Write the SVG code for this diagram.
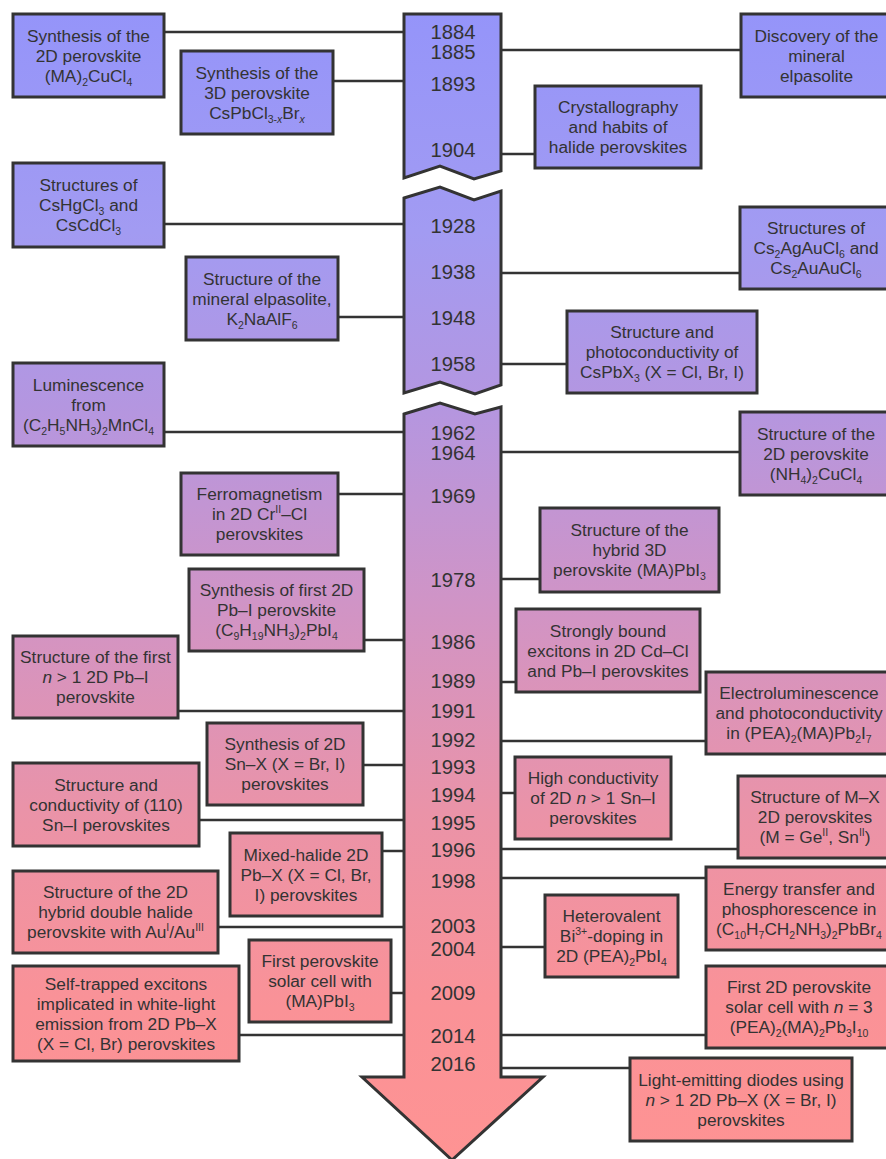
<svg xmlns="http://www.w3.org/2000/svg" width="886" height="1159" viewBox="0 0 886 1159">
<defs>
<linearGradient id="g" gradientUnits="userSpaceOnUse" x1="0" y1="0" x2="0" y2="1159">
<stop offset="0" stop-color="#9494fa"/>
<stop offset="0.2" stop-color="#a29bf2"/>
<stop offset="0.35" stop-color="#b496e0"/>
<stop offset="0.52" stop-color="#d094c6"/>
<stop offset="0.7" stop-color="#ea93a8"/>
<stop offset="0.87" stop-color="#fa9297"/>
<stop offset="1" stop-color="#fe9393"/>
</linearGradient>
<style>
.box{fill:url(#g);stroke:#333;stroke-width:3}
.arr{fill:url(#g);stroke:#333;stroke-width:3;stroke-linejoin:miter}
.conn line{stroke:#333;stroke-width:2.5}
text{font-family:"Liberation Sans",Arial,sans-serif;fill:#333;text-anchor:middle}
.t{font-size:17.3px}
.yr{font-size:20.3px}
.s{font-size:10.5px}
.i{font-style:italic}
</style>
</defs>
<g id="timeline">
<path class="arr" d="M404,14 H501 V171 L474,179 L440,166 L404,178 Z"/>
<path class="arr" d="M404,198 L440,187 L474,200 L501,191 V385 L475,394 L440,382 L404,393 Z"/>
<path class="arr" d="M404,414 L440,403 L475,414 L501,407 V1077 H543 L452,1160 L362,1077 H404 Z"/>
<g class="yr">
<text x="453" y="39">1884</text>
<text x="453" y="59">1885</text>
<text x="453" y="91">1893</text>
<text x="453" y="157">1904</text>
<text x="453" y="233">1928</text>
<text x="453" y="279">1938</text>
<text x="453" y="325">1948</text>
<text x="453" y="371">1958</text>
<text x="453" y="440">1962</text>
<text x="453" y="460">1964</text>
<text x="453" y="503">1969</text>
<text x="453" y="587">1978</text>
<text x="453" y="649">1986</text>
<text x="453" y="688">1989</text>
<text x="453" y="718">1991</text>
<text x="453" y="747">1992</text>
<text x="453" y="774">1993</text>
<text x="453" y="802">1994</text>
<text x="453" y="830">1995</text>
<text x="453" y="857">1996</text>
<text x="453" y="888">1998</text>
<text x="453" y="933">2003</text>
<text x="453" y="956">2004</text>
<text x="453" y="1000">2009</text>
<text x="453" y="1043">2014</text>
<text x="453" y="1071">2016</text>
</g>
</g>
<g id="connectors" class="conn">
<line x1="164" y1="32" x2="404" y2="32"/>
<line x1="333" y1="81" x2="404" y2="81"/>
<line x1="501" y1="50" x2="741" y2="50"/>
<line x1="501" y1="154" x2="535" y2="154"/>
<line x1="164" y1="224" x2="404" y2="224"/>
<line x1="338" y1="317" x2="404" y2="317"/>
<line x1="501" y1="273" x2="740" y2="273"/>
<line x1="501" y1="364" x2="567" y2="364"/>
<line x1="164" y1="432" x2="404" y2="432"/>
<line x1="338" y1="494" x2="404" y2="494"/>
<line x1="501" y1="452" x2="740" y2="452"/>
<line x1="501" y1="579" x2="540" y2="579"/>
<line x1="364" y1="640" x2="404" y2="640"/>
<line x1="178" y1="711" x2="404" y2="711"/>
<line x1="363" y1="765" x2="404" y2="765"/>
<line x1="501" y1="682" x2="516" y2="682"/>
<line x1="501" y1="741" x2="706" y2="741"/>
<line x1="199" y1="820" x2="404" y2="820"/>
<line x1="382" y1="851" x2="404" y2="851"/>
<line x1="218" y1="927" x2="404" y2="927"/>
<line x1="391" y1="993" x2="404" y2="993"/>
<line x1="501" y1="793" x2="515" y2="793"/>
<line x1="501" y1="849" x2="738" y2="849"/>
<line x1="501" y1="878" x2="706" y2="878"/>
<line x1="501" y1="947" x2="545" y2="947"/>
<line x1="239" y1="1035" x2="404" y2="1035"/>
<line x1="501" y1="1035" x2="706" y2="1035"/>
<line x1="501" y1="1068" x2="630" y2="1068"/>
</g>
<g id="n1884" class="t"><rect class="box" x="13" y="14" width="151" height="83"/>
<text x="88.5" y="41.5">Synthesis of the</text><text x="88.5" y="61.5">2D perovskite</text>
<text x="88.5" y="81.5">(MA)<tspan class="s" dy="4">2</tspan><tspan dy="-4">CuCl</tspan><tspan class="s" dy="4">4</tspan></text></g>
<g id="n1893" class="t"><rect class="box" x="181" y="51" width="152" height="83"/>
<text x="257" y="78.5">Synthesis of the</text><text x="257" y="98.5">3D perovskite</text>
<text x="257" y="118.5">CsPbCl<tspan class="s" dy="4">3-</tspan><tspan class="s i">x</tspan><tspan dy="-4">Br</tspan><tspan class="s i" dy="4">x</tspan></text></g>
<g id="n1885" class="t"><rect class="box" x="741" y="14" width="151" height="83"/>
<text x="816.5" y="41.5">Discovery of the</text><text x="816.5" y="61.5">mineral</text><text x="816.5" y="81.5">elpasolite</text></g>
<g id="n1904" class="t"><rect class="box" x="535" y="86" width="166" height="82"/>
<text x="618" y="113">Crystallography</text><text x="618" y="133">and habits of</text><text x="618" y="153">halide perovskites</text></g>
<g id="n1928" class="t"><rect class="box" x="13" y="163" width="151" height="84"/>
<text x="88.5" y="191">Structures of</text>
<text x="88.5" y="211">CsHgCl<tspan class="s" dy="4">3</tspan><tspan dy="-4"> and</tspan></text>
<text x="88.5" y="231">CsCdCl<tspan class="s" dy="4">3</tspan></text></g>
<g id="n1948" class="t"><rect class="box" x="186" y="257" width="152" height="83"/>
<text x="262" y="284.5">Structure of the</text><text x="262" y="304.5">mineral elpasolite,</text>
<text x="262" y="324.5">K<tspan class="s" dy="4">2</tspan><tspan dy="-4">NaAlF</tspan><tspan class="s" dy="4">6</tspan></text></g>
<g id="n1938" class="t"><rect class="box" x="740" y="207" width="152" height="82"/>
<text x="816" y="234">Structures of</text>
<text x="816" y="254">Cs<tspan class="s" dy="4">2</tspan><tspan dy="-4">AgAuCl</tspan><tspan class="s" dy="4">6</tspan><tspan dy="-4"> and</tspan></text>
<text x="816" y="274">Cs<tspan class="s" dy="4">2</tspan><tspan dy="-4">AuAuCl</tspan><tspan class="s" dy="4">6</tspan></text></g>
<g id="n1958" class="t"><rect class="box" x="567" y="311" width="190" height="82"/>
<text x="662" y="338">Structure and</text><text x="662" y="358">photoconductivity of</text>
<text x="662" y="378">CsPbX<tspan class="s" dy="4">3</tspan><tspan dy="-4"> (X = Cl, Br, I)</tspan></text></g>
<g id="n1962" class="t"><rect class="box" x="13" y="363" width="151" height="83"/>
<text x="88.5" y="390.5">Luminescence</text><text x="88.5" y="410.5">from</text>
<text x="88.5" y="430.5">(C<tspan class="s" dy="4">2</tspan><tspan dy="-4">H</tspan><tspan class="s" dy="4">5</tspan><tspan dy="-4">NH</tspan><tspan class="s" dy="4">3</tspan><tspan dy="-4">)</tspan><tspan class="s" dy="4">2</tspan><tspan dy="-4">MnCl</tspan><tspan class="s" dy="4">4</tspan></text></g>
<g id="n1969" class="t"><rect class="box" x="181" y="473" width="157" height="82"/>
<text x="259.5" y="500">Ferromagnetism</text>
<text x="259.5" y="520">in 2D Cr<tspan class="s" dy="-7">II</tspan><tspan dy="7">–Cl</tspan></text>
<text x="259.5" y="540">perovskites</text></g>
<g id="n1964" class="t"><rect class="box" x="740" y="412" width="152" height="83"/>
<text x="816" y="439.5">Structure of the</text><text x="816" y="459.5">2D perovskite</text>
<text x="816" y="479.5">(NH<tspan class="s" dy="4">4</tspan><tspan dy="-4">)</tspan><tspan class="s" dy="4">2</tspan><tspan dy="-4">CuCl</tspan><tspan class="s" dy="4">4</tspan></text></g>
<g id="n1978" class="t"><rect class="box" x="540" y="508" width="179" height="84"/>
<text x="629.5" y="536">Structure of the</text><text x="629.5" y="556">hybrid 3D</text>
<text x="629.5" y="576">perovskite (MA)PbI<tspan class="s" dy="4">3</tspan></text></g>
<g id="n1986" class="t"><rect class="box" x="189" y="569" width="175" height="82"/>
<text x="276.5" y="596">Synthesis of first 2D</text><text x="276.5" y="616">Pb–I perovskite</text>
<text x="276.5" y="636">(C<tspan class="s" dy="4">9</tspan><tspan dy="-4">H</tspan><tspan class="s" dy="4">19</tspan><tspan dy="-4">NH</tspan><tspan class="s" dy="4">3</tspan><tspan dy="-4">)</tspan><tspan class="s" dy="4">2</tspan><tspan dy="-4">PbI</tspan><tspan class="s" dy="4">4</tspan></text></g>
<g id="n1991" class="t"><rect class="box" x="13" y="636" width="165" height="82"/>
<text x="95.5" y="663">Structure of the first</text>
<text x="95.5" y="683"><tspan class="i">n</tspan> &gt; 1 2D Pb–I</text>
<text x="95.5" y="703">perovskite</text></g>
<g id="n1993" class="t"><rect class="box" x="207" y="723" width="156" height="82"/>
<text x="285" y="750">Synthesis of 2D</text><text x="285" y="770">Sn–X (X = Br, I)</text><text x="285" y="790">perovskites</text></g>
<g id="n1989" class="t"><rect class="box" x="516" y="609" width="184" height="83"/>
<text x="608" y="636.5">Strongly bound</text><text x="608" y="656.5">excitons in 2D Cd–Cl</text><text x="608" y="676.5">and Pb–I perovskites</text></g>
<g id="n1992" class="t"><rect class="box" x="706" y="672" width="186" height="82"/>
<text x="799" y="699">Electroluminescence</text><text x="799" y="719">and photoconductivity</text>
<text x="799" y="739">in (PEA)<tspan class="s" dy="4">2</tspan><tspan dy="-4">(MA)Pb</tspan><tspan class="s" dy="4">2</tspan><tspan dy="-4">I</tspan><tspan class="s" dy="4">7</tspan></text></g>
<g id="n1995" class="t"><rect class="box" x="13" y="763" width="186" height="83"/>
<text x="106" y="790.5">Structure and</text><text x="106" y="810.5">conductivity of (110)</text><text x="106" y="830.5">Sn–I perovskites</text></g>
<g id="n1996a" class="t"><rect class="box" x="230" y="833" width="152" height="83"/>
<text x="306" y="860.5">Mixed-halide 2D</text><text x="306" y="880.5">Pb–X (X = Cl, Br,</text><text x="306" y="900.5">I) perovskites</text></g>
<g id="n2003" class="t"><rect class="box" x="13" y="871" width="205" height="82"/>
<text x="115.5" y="898">Structure of the 2D</text><text x="115.5" y="918">hybrid double halide</text>
<text x="115.5" y="938">perovskite with Au<tspan class="s" dy="-7">I</tspan><tspan dy="7">/Au</tspan><tspan class="s" dy="-7">III</tspan></text></g>
<g id="n2009" class="t"><rect class="box" x="249" y="940" width="142" height="82"/>
<text x="320" y="967">First perovskite</text><text x="320" y="987">solar cell with</text>
<text x="320" y="1007">(MA)PbI<tspan class="s" dy="4">3</tspan></text></g>
<g id="n1994" class="t"><rect class="box" x="515" y="757" width="156" height="82"/>
<text x="593" y="784">High conductivity</text>
<text x="593" y="804">of 2D <tspan class="i">n</tspan> &gt; 1 Sn–I</text>
<text x="593" y="824">perovskites</text></g>
<g id="n1996" class="t"><rect class="box" x="738" y="776" width="154" height="82"/>
<text x="815" y="803">Structure of M–X</text><text x="815" y="823">2D perovskites</text>
<text x="815" y="843">(M = Ge<tspan class="s" dy="-7">II</tspan><tspan dy="7">, Sn</tspan><tspan class="s" dy="-7">II</tspan><tspan dy="7">)</tspan></text></g>
<g id="n1998" class="t"><rect class="box" x="706" y="867" width="186" height="83"/>
<text x="799" y="894.5">Energy transfer and</text><text x="799" y="914.5">phosphorescence in</text>
<text x="799" y="934.5">(C<tspan class="s" dy="4">10</tspan><tspan dy="-4">H</tspan><tspan class="s" dy="4">7</tspan><tspan dy="-4">CH</tspan><tspan class="s" dy="4">2</tspan><tspan dy="-4">NH</tspan><tspan class="s" dy="4">3</tspan><tspan dy="-4">)</tspan><tspan class="s" dy="4">2</tspan><tspan dy="-4">PbBr</tspan><tspan class="s" dy="4">4</tspan></text></g>
<g id="n2004" class="t"><rect class="box" x="545" y="895" width="133" height="82"/>
<text x="611.5" y="922">Heterovalent</text>
<text x="611.5" y="942">Bi<tspan class="s" dy="-7">3+</tspan><tspan dy="7">-doping in</tspan></text>
<text x="611.5" y="962">2D (PEA)<tspan class="s" dy="4">2</tspan><tspan dy="-4">PbI</tspan><tspan class="s" dy="4">4</tspan></text></g>
<g id="n2014a" class="t"><rect class="box" x="13" y="966" width="226" height="95"/>
<text x="126" y="989.5">Self-trapped excitons</text><text x="126" y="1009.5">implicated in white-light</text>
<text x="126" y="1029.5">emission from 2D Pb–X</text><text x="126" y="1049.5">(X = Cl, Br) perovskites</text></g>
<g id="n2014b" class="t"><rect class="box" x="706" y="966" width="186" height="82"/>
<text x="799" y="993">First 2D perovskite</text>
<text x="799" y="1013">solar cell with <tspan class="i">n</tspan> = 3</text>
<text x="799" y="1033">(PEA)<tspan class="s" dy="4">2</tspan><tspan dy="-4">(MA)</tspan><tspan class="s" dy="4">2</tspan><tspan dy="-4">Pb</tspan><tspan class="s" dy="4">3</tspan><tspan dy="-4">I</tspan><tspan class="s" dy="4">10</tspan></text></g>
<g id="n2016" class="t"><rect class="box" x="630" y="1058" width="222" height="83"/>
<text x="741" y="1085.5">Light-emitting diodes using</text>
<text x="741" y="1105.5"><tspan class="i">n</tspan> &gt; 1 2D Pb–X (X = Br, I)</text>
<text x="741" y="1125.5">perovskites</text></g>
</svg>
